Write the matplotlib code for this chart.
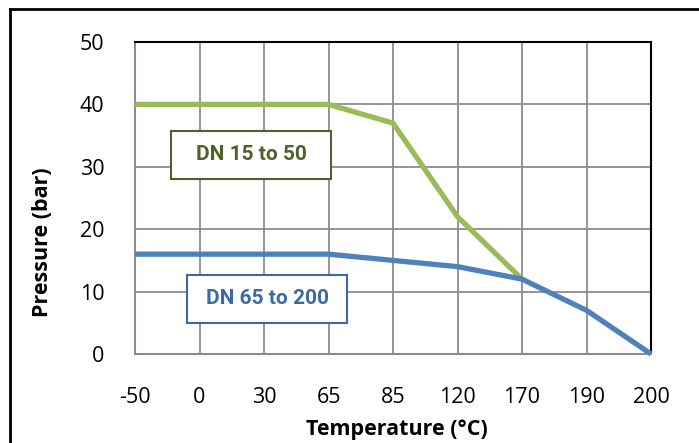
import matplotlib
matplotlib.use("Agg")
import matplotlib.pyplot as plt
import numpy as np

temps = ["-50", "0", "30", "65", "85", "120", "170", "190", "200"]
dn15_50 = [40, 40, 40, 40, 37, 22, 12, np.nan, np.nan]
dn65_200 = [16, 16, 16, 16, 15, 14, 12, 7, 0]
yticks = [0, 10, 20, 30, 40, 50]

W, H = 699, 443
fig = plt.figure(figsize=(W / 100, H / 100), dpi=100)
ax = fig.add_axes([135 / W, 1 - 354 / H, (651 - 135) / W, (354 - 42) / H])

x = np.arange(len(temps))
ax.plot(x, dn15_50, color="#9BBB59", lw=3.8, solid_capstyle="butt", zorder=3, clip_on=False)
ax.plot(x, dn65_200, color="#4F81BD", lw=3.8, solid_capstyle="butt", zorder=4, clip_on=False)

ax.set_xlim(0, len(temps) - 1)
ax.set_ylim(0, 50)
ax.set_xticks(x)
ax.set_xticklabels(temps)
ax.set_yticks(yticks)
ax.grid(True, color="#8C8C8C", lw=1.3)
ax.set_axisbelow(True)
ax.tick_params(length=0, labelsize=15.5)
ax.tick_params(axis="y", pad=22)
ax.tick_params(axis="x", pad=24)
for lab in ax.get_xticklabels() + ax.get_yticklabels():
    lab.set_family("Open Sans")

for s in ["top", "right"]:
    ax.spines[s].set_color("black")
    ax.spines[s].set_linewidth(1.5)
for s in ["left", "bottom"]:
    ax.spines[s].set_color("#8C8C8C")
    ax.spines[s].set_linewidth(1.5)

fig.text(43 / W, 1 - 242 / H, "Pressure (bar)", rotation=90, ha="center", va="center",
         fontsize=15.5, fontweight="bold", family="Open Sans")
fig.text(397 / W, 1 - 430 / H, "Temperature (°C)", ha="center", va="center",
         fontsize=15.5, fontweight="bold", family="Open Sans")

# label boxes
narrow = ["Liberation Sans Narrow", "Roboto", "DejaVu Sans"]
def box(x0, y0, x1, y1, text, col):
    r = plt.Rectangle((x0 / W, 1 - y1 / H), (x1 - x0) / W, (y1 - y0) / H,
                      transform=fig.transFigure, facecolor="white", edgecolor=col,
                      lw=1.5, zorder=5)
    fig.add_artist(r)
    fig.text((x0 + x1) / 2 / W, 1 - (y0 + y1) / 2 / H, text, ha="center", va="center",
             fontsize=15, fontweight="bold", color=col, family=narrow, zorder=6)

box(171, 131, 331, 179, "DN 15 to 50", "#4F6228")
box(187, 275, 347, 323, "DN 65 to 200", "#3A6BA5")

# outer frame (left and top visible)
fig.add_artist(plt.Line2D([10 / W, 10 / W], [0, 1 - 9 / H], color="black", lw=2,
                          transform=fig.transFigure))
fig.add_artist(plt.Line2D([10 / W, 1], [1 - 9 / H, 1 - 9 / H], color="black", lw=2,
                          transform=fig.transFigure))

fig.savefig("out.png", dpi=100)
